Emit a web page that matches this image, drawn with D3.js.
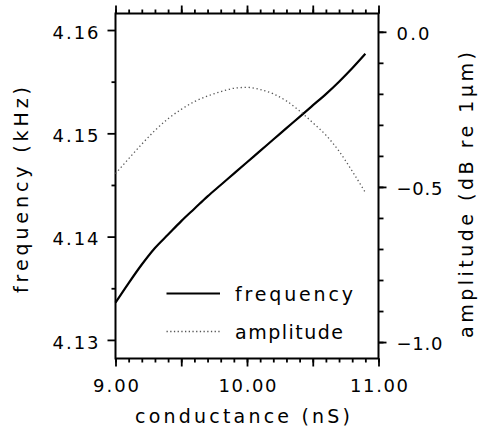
<!DOCTYPE html>
<html lang="en">
<head>
<meta charset="UTF-8">
<title>frequency and amplitude vs conductance</title>
<script src="https://cdn.jsdelivr.net/npm/d3@7"></script>
<style>
    body { margin: 0; background: #fff; }
    text { font-family: "DejaVu Sans", sans-serif; fill: #000; }
</style>
</head>
<body>
<script>
    // values
    var conductance = [9.0, 9.1, 9.2, 9.3, 9.4, 9.5, 9.6, 9.7, 9.8, 9.9,
        10.0, 10.1, 10.2, 10.3, 10.4, 10.5, 10.6, 10.7, 10.8, 10.9];
    var frequency = [4.1336, 4.1355, 4.1373, 4.1389, 4.1402, 4.1415, 4.1427, 4.1439, 4.1450, 4.1461,
        4.1472, 4.1483, 4.1494, 4.1505, 4.1516, 4.1527, 4.1538, 4.1550, 4.1563, 4.1577];
    var amplitude = [-0.457, -0.409, -0.362, -0.318, -0.280, -0.250, -0.225, -0.207, -0.193, -0.182,
        -0.179, -0.186, -0.200, -0.223, -0.255, -0.293, -0.333, -0.385, -0.449, -0.518];

    var xMajor = [9, 9.5, 10, 10.5, 11];
    var xLabels = [9, 10, 11];
    var freqTicks = [4.13, 4.14, 4.15, 4.16];
    var freqMinor = [4.135, 4.145, 4.155];
    var ampTicks = [0, -0.5, -1.0];

    var w = 482, h = 432;
    // plot frame (window.top is read-only, so no "top" here)
    var pL = 115.5, pR = 378.5, pT = 13.5, pB = 358.5;

    var x = d3.scaleLinear().domain([9, 11]).range([pL, pR]);
    var yF = d3.scaleLinear().domain([4.1282, 4.1616]).range([pB, pT]);
    var yA = d3.scaleLinear().domain([-1.053, 0.059]).range([pB, pT]);

    var svg = d3.select("body").append("svg")
        .attr("width", w)
        .attr("height", h);

    var xMinor = d3.range(0, 21).map(function (i) { return 9 + i / 10; });
    var aMinor = d3.range(0, 11).map(function (i) { return -i / 10; });

    function style(g, labelSize) {
        g.select(".domain").remove();
        g.selectAll("line").attr("stroke", "#000").attr("stroke-width", 1.8);
        g.selectAll("text").attr("font-size", labelSize);
    }

    // bottom
    svg.append("g").attr("transform", "translate(0," + pB + ")")
        .call(d3.axisBottom(x).tickValues(xMinor).tickSize(4).tickFormat(""))
        .call(style, 18);
    svg.append("g").attr("transform", "translate(0," + pB + ")")
        .call(d3.axisBottom(x).tickValues(xMajor).tickSize(8).tickPadding(13)
            .tickFormat(function (d) { return xLabels.indexOf(d) >= 0 ? d3.format(".2f")(d) : ""; }))
        .call(style, 18)
        .selectAll("text")
        .attr("textLength", function (d) { return d >= 10 ? 58 : 46; })
        .attr("lengthAdjust", "spacing");

    // top
    svg.append("g").attr("transform", "translate(0," + pT + ")")
        .call(d3.axisTop(x).tickValues(xMinor).tickSize(4).tickFormat(""))
        .call(style, 18);
    svg.append("g").attr("transform", "translate(0," + pT + ")")
        .call(d3.axisTop(x).tickValues(xMajor).tickSize(8).tickFormat(""))
        .call(style, 18);

    // left
    svg.append("g").attr("transform", "translate(" + pL + ",0)")
        .call(d3.axisLeft(yF).tickValues(freqMinor).tickSize(4).tickFormat(""))
        .call(style, 18);
    svg.append("g").attr("transform", "translate(" + pL + ",0)")
        .call(d3.axisLeft(yF).tickValues(freqTicks).tickSize(8).tickPadding(9).tickFormat(d3.format(".2f")))
        .call(style, 18)
        .selectAll("text")
        .attr("textLength", 46)
        .attr("lengthAdjust", "spacing")
        .attr("dy", "0.45em");

    // right
    svg.append("g").attr("transform", "translate(" + pR + ",0)")
        .call(d3.axisRight(yA).tickValues(aMinor).tickSize(5).tickFormat(""))
        .call(style, 18);
    svg.append("g").attr("transform", "translate(" + pR + ",0)")
        .call(d3.axisRight(yA).tickValues(ampTicks).tickSize(8).tickPadding(10).tickFormat(d3.format(".1f")))
        .call(style, 18)
        .selectAll("text")
        .attr("textLength", function (d) { return d < 0 ? 46 : 33; })
        .attr("lengthAdjust", "spacing")
        .attr("dy", "0.4em");

    // frame
    svg.append("rect")
        .attr("x", pL).attr("y", pT)
        .attr("width", pR - pL).attr("height", pB - pT)
        .attr("fill", "none").attr("stroke", "#000").attr("stroke-width", 2);

    var pts = conductance.map(function (c, i) { return { c: c, f: frequency[i], a: amplitude[i] }; });

    svg.append("path").datum(pts)
        .attr("fill", "none").attr("stroke", "#000").attr("stroke-width", 2.2)
        .attr("d", d3.line().curve(d3.curveMonotoneX)
            .x(function (d) { return x(d.c); })
            .y(function (d) { return yF(d.f); }));

    svg.append("path").datum(pts)
        .attr("fill", "none").attr("stroke", "#555").attr("stroke-width", 1.3)
        .attr("stroke-dasharray", "1.3 2.7")
        .attr("d", d3.line().curve(d3.curveMonotoneX)
            .x(function (d) { return x(d.c); })
            .y(function (d) { return yA(d.a); }));

    // axis titles
    svg.append("text")
        .attr("x", 242.5).attr("y", 423)
        .attr("text-anchor", "middle").attr("font-size", 19)
        .attr("textLength", 215).attr("lengthAdjust", "spacing")
        .text("conductance (nS)");

    svg.append("text")
        .attr("transform", "translate(28,190) rotate(-90)")
        .attr("text-anchor", "middle").attr("font-size", 19)
        .attr("textLength", 206).attr("lengthAdjust", "spacing")
        .text("frequency (kHz)");

    svg.append("text")
        .attr("transform", "translate(473,195) rotate(-90)")
        .attr("text-anchor", "middle").attr("font-size", 19)
        .attr("textLength", 286).attr("lengthAdjust", "spacing")
        .text("amplitude (dB re 1µm)");

    // legend
    var legend = [
        { name: "frequency", y: 293.5, len: 118, dash: null, color: "#000", sw: 2 },
        { name: "amplitude", y: 331.5, len: 108, dash: "1.3 2.4", color: "#555", sw: 1.3 }
    ];
    var lg = svg.selectAll("g.legend").data(legend).enter().append("g").attr("class", "legend");
    lg.append("line")
        .attr("x1", 166.5).attr("x2", 220)
        .attr("y1", function (d) { return d.y; }).attr("y2", function (d) { return d.y; })
        .attr("stroke", function (d) { return d.color; })
        .attr("stroke-width", function (d) { return d.sw; })
        .attr("stroke-dasharray", function (d) { return d.dash; });
    lg.append("text")
        .attr("x", 235).attr("y", function (d) { return d.y + 7.5; })
        .attr("font-size", 19)
        .attr("textLength", function (d) { return d.len; }).attr("lengthAdjust", "spacing")
        .text(function (d) { return d.name; });
</script>
</body>
</html>
